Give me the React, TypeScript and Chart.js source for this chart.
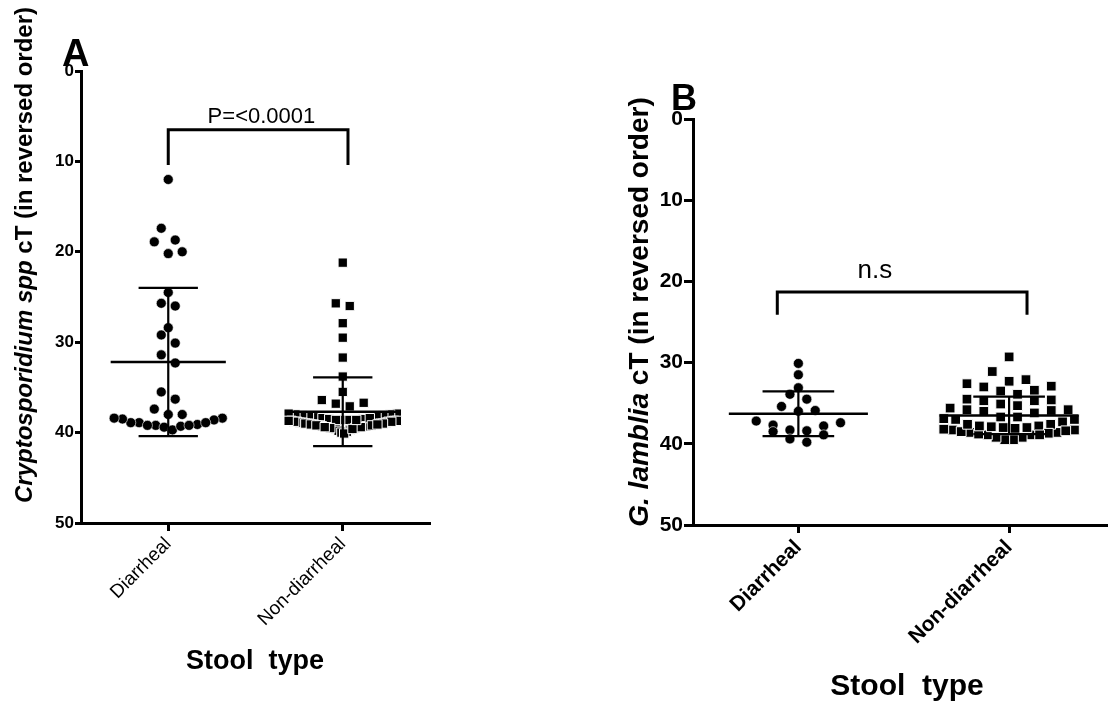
import React, { useEffect, useRef } from "react";
import { Chart, registerables } from "chart.js";

Chart.register(...registerables);

// ---------------- data ----------------
const categories = ["Diarrheal", "Non-diarrheal"];
const yTickValues = [0, 10, 20, 30, 40, 50];

// Panel A: Cryptosporidium spp cT
const cryptoDiarrheal = [
  12.0, 17.4, 18.7, 18.9, 20.0, 20.2, 24.5, 25.7, 26.0, 28.4, 29.2, 30.1, 31.4,
  32.3, 35.5, 36.3, 37.4, 38.0, 38.0, 38.4, 38.6, 38.9, 39.1, 39.2, 39.4, 39.7,
  39.3, 39.2, 39.2, 38.9, 38.9, 38.5, 38.4,
];
const cryptoNonDiarrheal = [
  21.2, 25.7, 26.0, 27.9, 29.5, 31.7, 33.8, 35.5, 36.4, 36.7, 36.8, 37.1,
  37.9, 38.0, 38.1, 38.2, 38.3, 38.2, 38.1, 38.0, 37.9,
  38.4, 38.5, 38.6, 38.6, 38.7, 38.7, 38.8, 38.8, 38.9, 38.9, 39.0, 39.0, 39.1,
  39.1, 39.2, 39.2, 39.3, 39.3, 39.4, 39.4, 39.5, 39.5, 39.6, 39.7, 39.8, 39.9,
  40.0, 40.1, 38.5, 38.6, 38.7, 38.8, 38.9, 39.0, 39.1, 39.2, 39.3, 39.4, 39.5,
  39.6, 38.4, 38.6, 38.8, 39.0, 39.2, 39.4, 38.7, 39.1,
];
const cryptoMean = [32.2, 37.7];
const cryptoSD = [8.2, 3.8];
const cryptoSignificance = "P=<0.0001";

// Panel B: G. lamblia cT
const giardiaDiarrheal = [
  30.1, 31.5, 33.1, 33.9, 34.5, 35.4, 36.0, 35.9, 37.2, 37.4, 37.8, 37.7, 38.3,
  38.5, 38.4, 38.9, 39.4, 39.8,
];
const giardiaNonDiarrheal = [
  29.3, 31.1, 32.3, 32.6, 32.1, 32.9, 33.0, 33.4, 33.5, 33.9, 34.6, 34.7, 35.1,
  35.3, 34.5, 34.7, 35.6, 35.8, 36.0, 35.8, 35.9, 36.2, 36.7, 37.0, 37.3, 37.0,
  36.9, 36.7,
  38.0, 38.3, 38.6, 38.9, 39.2, 39.5, 39.5, 39.2, 38.9, 38.6, 38.3, 37.8,
  37.6, 37.9, 38.1, 38.4, 38.7, 38.9, 38.8, 38.5, 38.2, 38.0, 37.8, 37.6,
];
const giardiaMean = [36.3, 36.5];
const giardiaSD = [2.75, 2.3];
const giardiaSignificance = "n.s";

// ---------------- layout / style ----------------
const H = 703;
const FONT = "'Liberation Sans', Arial, Helvetica, sans-serif";

type Panel = {
  key: string;
  letter: string;
  titleItalic: string;
  titleRest: string;
  series: number[][];
  means: number[];
  sds: number[];
  sig: string;
  canvasLeft: number;
  width: number;
  area: { left: number; top: number; right: number; bottom: number };
  xMax: number;
  yTickFont: number;
  xTickFont: number;
  xTickWeight: string;
  tickLen: number;
  titleFont: number;
  titleBaselineX: number;
  titleCenterY: number;
  letterFont: number;
  letterX: number;
  letterBaseline: number;
  xTitleFont: number;
  xTitleCenterX: number;
  xTitleBaseline: number;
  sigFont: number;
  sigX: number;
  sigY: number;
  bracket: { x0: number; x1: number; yTop: number; yLeg: number };
  circleR: number;
  rectR: number;
  rowPx: number;
};

const panels: Panel[] = [
  {
    key: "A",
    letter: "A",
    titleItalic: "Cryptosporidium spp",
    titleRest: " cT (in reversed order)",
    series: [cryptoDiarrheal, cryptoNonDiarrheal],
    means: cryptoMean,
    sds: cryptoSD,
    sig: cryptoSignificance,
    canvasLeft: 0,
    width: 560,
    area: { left: 81, top: 71, right: 430, bottom: 523 },
    xMax: 1.5,
    yTickFont: 17,
    xTickFont: 19,
    xTickWeight: "normal",
    tickLen: 6,
    titleFont: 24,
    titleBaselineX: 32,
    titleCenterY: 255,
    letterFont: 38,
    letterX: 62,
    letterBaseline: 66,
    xTitleFont: 27,
    xTitleCenterX: 255,
    xTitleBaseline: 669,
    sigFont: 22,
    sigX: 0.534,
    sigY: 5.75,
    bracket: { x0: 0, x1: 1.03, yTop: 6.5, yLeg: 10.4 },
    circleR: 5,
    rectR: 6.6,
    rowPx: 13,
  },
  {
    key: "B",
    letter: "B",
    titleItalic: "G. lamblia",
    titleRest: " cT (in reversed order)",
    series: [giardiaDiarrheal, giardiaNonDiarrheal],
    means: giardiaMean,
    sds: giardiaSD,
    sig: giardiaSignificance,
    canvasLeft: 560,
    width: 555,
    area: { left: 133, top: 119, right: 555, bottom: 525 },
    xMax: 1.465,
    yTickFont: 21,
    xTickFont: 21,
    xTickWeight: "bold",
    tickLen: 9,
    titleFont: 28,
    titleBaselineX: 88,
    titleCenterY: 312,
    letterFont: 36,
    letterX: 111,
    letterBaseline: 110,
    xTitleFont: 30,
    xTitleCenterX: 347,
    xTitleBaseline: 695,
    sigFont: 26,
    sigX: 0.363,
    sigY: 19.6,
    bracket: { x0: -0.1, x1: 1.085, yTop: 21.3, yLeg: 24.1 },
    circleR: 5,
    rectR: 6.9,
    rowPx: 11,
  },
];

const MEAN_HALF = 0.33;
const CAP_HALF = 0.17;
const ROW_HALF = 0.31; // max half-spread of point centres, in category units
const SLOT = 0.08; // preferred spacing between neighbours in a row, in category units

// ---------------- row-based scatter placement (Prism-like) ----------------
function rowLayout(
  values: number[],
  yPx: (v: number) => number,
  rowPx: number,
  slotPx: number,
  halfPx: number
): number[] {
  const order = values.map((_, i) => i).sort((a, b) => values[b] - values[a]);
  const out = new Array(values.length).fill(0);
  let k = 0;
  while (k < order.length) {
    const startPx = yPx(values[order[k]]);
    const row: number[] = [];
    while (k < order.length && Math.abs(yPx(values[order[k]]) - startPx) < rowPx) {
      row.push(order[k]);
      k++;
    }
    const n = row.length;
    const s = n > 1 ? Math.min(slotPx, (2 * halfPx) / (n - 1)) : 0;
    const slots = Array.from({ length: n }, (_, j) => (j - (n - 1) / 2) * s);
    // centre first, then alternate outwards
    slots.sort((a, b) => {
      const d = Math.abs(a) - Math.abs(b);
      if (Math.abs(d) > 1e-6) return d;
      return b - a;
    });
    row.forEach((idx, j) => {
      out[idx] = slots[j];
    });
  }
  return out;
}

// ---------------- overlay plugin ----------------
function overlay(p: Panel) {
  return {
    id: "overlay" + p.key,
    afterDatasetsDraw(chart: any) {
      const ctx = chart.ctx as CanvasRenderingContext2D;
      const xs = chart.scales.x;
      const ys = chart.scales.y;
      const unit = xs.getPixelForValue(1) - xs.getPixelForValue(0);
      const seg = (x0: number, y0: number, x1: number, y1: number) => {
        ctx.beginPath();
        ctx.moveTo(x0, y0);
        ctx.lineTo(x1, y1);
        ctx.stroke();
      };
      ctx.save();
      ctx.strokeStyle = "#000";
      p.means.forEach((m, k) => {
        const cx = xs.getPixelForValue(k);
        const ym = ys.getPixelForValue(m);
        const yt = ys.getPixelForValue(m - p.sds[k]);
        const yb = ys.getPixelForValue(m + p.sds[k]);
        ctx.lineWidth = 2.5;
        seg(cx - MEAN_HALF * unit, ym, cx + MEAN_HALF * unit, ym);
        ctx.lineWidth = 2.2;
        seg(cx, yt, cx, yb);
        seg(cx - CAP_HALF * unit, yt, cx + CAP_HALF * unit, yt);
        seg(cx - CAP_HALF * unit, yb, cx + CAP_HALF * unit, yb);
      });
      // significance bracket
      const b = p.bracket;
      const bx0 = xs.getPixelForValue(b.x0);
      const bx1 = xs.getPixelForValue(b.x1);
      const byt = ys.getPixelForValue(b.yTop);
      const byl = ys.getPixelForValue(b.yLeg);
      ctx.lineWidth = 3;
      ctx.lineJoin = "miter";
      ctx.beginPath();
      ctx.moveTo(bx0, byl);
      ctx.lineTo(bx0, byt);
      ctx.lineTo(bx1, byt);
      ctx.lineTo(bx1, byl);
      ctx.stroke();
      ctx.fillStyle = "#000";
      ctx.font = `normal ${p.sigFont}px ${FONT}`;
      ctx.textAlign = "center";
      ctx.textBaseline = "alphabetic";
      ctx.fillText(p.sig, xs.getPixelForValue(p.sigX), ys.getPixelForValue(p.sigY));
      ctx.restore();
    },
    afterDraw(chart: any) {
      const ctx = chart.ctx as CanvasRenderingContext2D;
      ctx.save();
      ctx.fillStyle = "#000";
      ctx.textBaseline = "alphabetic";
      // panel letter
      ctx.font = `bold ${p.letterFont}px ${FONT}`;
      ctx.textAlign = "left";
      ctx.fillText(p.letter, p.letterX, p.letterBaseline);
      // x title
      ctx.font = `bold ${p.xTitleFont}px ${FONT}`;
      ctx.textAlign = "center";
      ctx.fillText("Stool  type", p.xTitleCenterX, p.xTitleBaseline);
      // y title, rotated, italic + normal parts
      const fI = `italic bold ${p.titleFont}px ${FONT}`;
      const fN = `bold ${p.titleFont}px ${FONT}`;
      ctx.font = fI;
      const w1 = ctx.measureText(p.titleItalic).width;
      ctx.font = fN;
      const w2 = ctx.measureText(p.titleRest).width;
      ctx.translate(p.titleBaselineX, p.titleCenterY);
      ctx.rotate(-Math.PI / 2);
      ctx.textAlign = "left";
      const start = -(w1 + w2) / 2;
      ctx.font = fI;
      ctx.fillText(p.titleItalic, start, 0);
      ctx.font = fN;
      ctx.fillText(p.titleRest, start + w1, 0);
      ctx.restore();
    },
  };
}

// ---------------- components ----------------
function PanelChart({ p }: { p: Panel }) {
  const ref = useRef<HTMLCanvasElement>(null);
  useEffect(() => {
    const canvas = ref.current;
    if (!canvas) return;
    const chart = new Chart(canvas, {
      type: "scatter",
      data: {
        datasets: p.series.map((vals, k) => ({
          label: categories[k],
          data: vals.map((v) => ({ x: k, y: v })),
          pointStyle: k === 0 ? "circle" : "rect",
          pointRadius: k === 0 ? p.circleR : p.rectR,
          pointBackgroundColor: "#000",
          pointBorderColor: "#fff",
          pointBorderWidth: k === 0 ? 0.6 : 1,
          showLine: false,
        })),
      },
      options: {
        responsive: false,
        animation: false,
        devicePixelRatio: 1,
        events: [],
        layout: {
          padding: { left: 0, top: p.area.top, right: p.width - p.area.right, bottom: 0 },
        },
        plugins: { legend: { display: false }, tooltip: { enabled: false } },
        scales: {
          x: {
            type: "linear",
            min: -0.5,
            max: p.xMax,
            afterFit: (s: any) => {
              s.height = H - p.area.bottom;
            },
            afterBuildTicks: (s: any) => {
              s.ticks = categories.map((_, i) => ({ value: i }));
            },
            ticks: {
              callback: (v: any) => categories[v as number] ?? "",
              minRotation: 45,
              maxRotation: 45,
              autoSkip: false,
              color: "#000",
              padding: 2,
              font: { family: FONT, size: p.xTickFont, weight: p.xTickWeight as any },
            },
            grid: {
              display: true,
              drawOnChartArea: false,
              drawTicks: true,
              tickLength: 8,
              tickWidth: 3,
              tickColor: "#000",
              color: "#000",
            },
            border: { display: true, color: "#000", width: 3 },
          },
          y: {
            type: "linear",
            reverse: true,
            min: 0,
            max: 50,
            afterFit: (s: any) => {
              s.width = p.area.left;
            },
            afterBuildTicks: (s: any) => {
              s.ticks = yTickValues.map((v) => ({ value: v }));
            },
            ticks: {
              color: "#000",
              padding: 1,
              font: { family: FONT, size: p.yTickFont, weight: "bold" },
            },
            grid: {
              display: true,
              drawOnChartArea: false,
              drawTicks: true,
              tickLength: p.tickLen,
              tickWidth: 3,
              tickColor: "#000",
              color: "#000",
            },
            border: { display: true, color: "#000", width: 3 },
          },
        },
      } as any,
      plugins: [overlay(p) as any],
    });

    const xs: any = chart.scales.x;
    const ys: any = chart.scales.y;
    const unit = xs.getPixelForValue(1) - xs.getPixelForValue(0);
    p.series.forEach((vals, k) => {
      const offs = rowLayout(
        vals,
        (v) => ys.getPixelForValue(v),
        p.rowPx,
        SLOT * unit,
        ROW_HALF * unit
      );
      (chart.data.datasets[k] as any).data = vals.map((v, i) => ({ x: k + offs[i] / unit, y: v }));
    });
    chart.update("none");
    return () => chart.destroy();
  }, [p]);
  return (
    <canvas
      ref={ref}
      width={p.width}
      height={H}
      style={{ position: "absolute", left: p.canvasLeft, top: 0, width: p.width, height: H }}
    />
  );
}

export default function App() {
  return (
    <div
      style={{
        position: "fixed",
        left: 0,
        top: 0,
        width: 1115,
        height: H,
        background: "#fff",
        overflow: "hidden",
      }}
    >
      {panels.map((p) => (
        <PanelChart key={p.key} p={p} />
      ))}
    </div>
  );
}
